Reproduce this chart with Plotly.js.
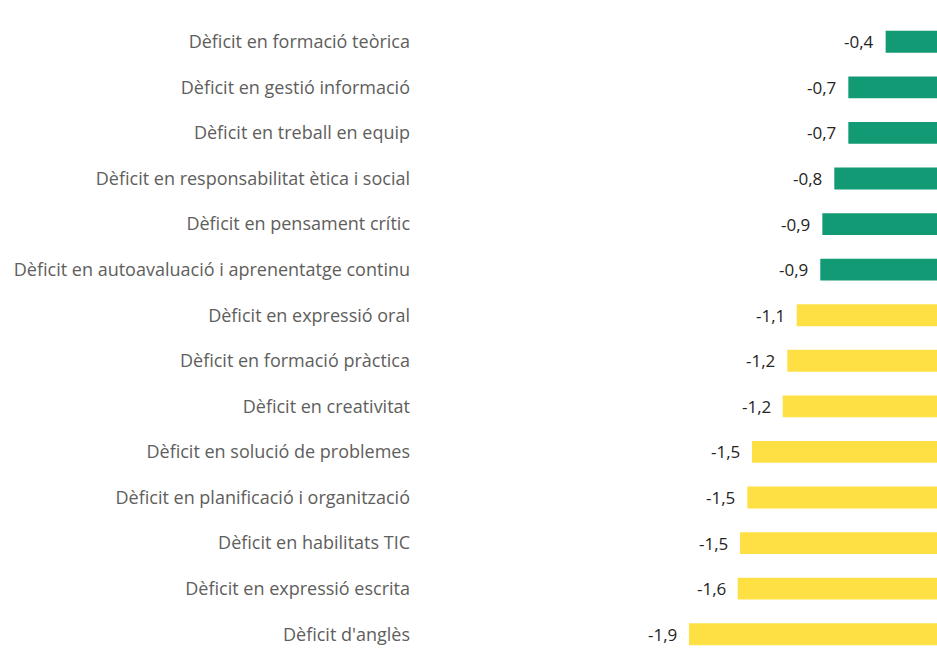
<!DOCTYPE html>
<html>
<head>
<meta charset="utf-8">
<script src="https://cdn.plot.ly/plotly-3.0.1.min.js"></script>
<style>html,body{margin:0;padding:0;background:#fff;}#chart{width:937px;height:658px;}</style>
</head>
<body>
<div id="chart"></div>
<script>
const categories = [
  "Dèficit en formació teòrica",
  "Dèficit en gestió informació",
  "Dèficit en treball en equip",
  "Dèficit en responsabilitat ètica i social",
  "Dèficit en pensament crític",
  "Dèficit en autoavaluació i aprenentatge continu",
  "Dèficit en expressió oral",
  "Dèficit en formació pràctica",
  "Dèficit en creativitat",
  "Dèficit en solució de problemes",
  "Dèficit en planificació i organització",
  "Dèficit en habilitats TIC",
  "Dèficit en expressió escrita",
  "Dèficit d'anglès"
];
const values = [-0.403, -0.696, -0.696, -0.806, -0.900, -0.916, -1.101, -1.175, -1.211, -1.452, -1.489, -1.546, -1.564, -1.947];
const groups = ["g","g","g","g","g","g","y","y","y","y","y","y","y","y"];
const groupColors = {g: "#129A74", y: "#FFE044"};

const trace = {
  type: "bar",
  orientation: "h",
  x: values,
  y: categories,
  marker: {color: groups.map(g => groupColors[g])},
  hoverinfo: "none"
};

const annotations = values.map((v, i) => ({
  x: v, y: categories[i], xref: "x", yref: "y",
  text: v.toFixed(1).replace(".", ","),
  showarrow: false, xanchor: "right", xshift: -10,
  font: {family: "Open Sans, Noto Sans, sans-serif", size: 17, color: "#252423"}
}));

const layout = {
  width: 937, height: 658,
  margin: {l: 415, r: 0, t: 19, b: 1, pad: 0},
  paper_bgcolor: "#fff", plot_bgcolor: "#fff",
  showlegend: false,
  bargap: 0.52,
  xaxis: {range: [-4.097, 0], visible: false, fixedrange: true},
  yaxis: {
    autorange: "reversed", automargin: false, showgrid: false, zeroline: false,
    showline: false, ticks: "", ticklabelstandoff: 4,
    tickfont: {family: "Open Sans, Noto Sans, sans-serif", size: 18, color: "#605E5C"}
  },
  annotations: annotations
};

Plotly.newPlot("chart", [trace], layout, {staticPlot: true, displayModeBar: false});
</script>
</body>
</html>
